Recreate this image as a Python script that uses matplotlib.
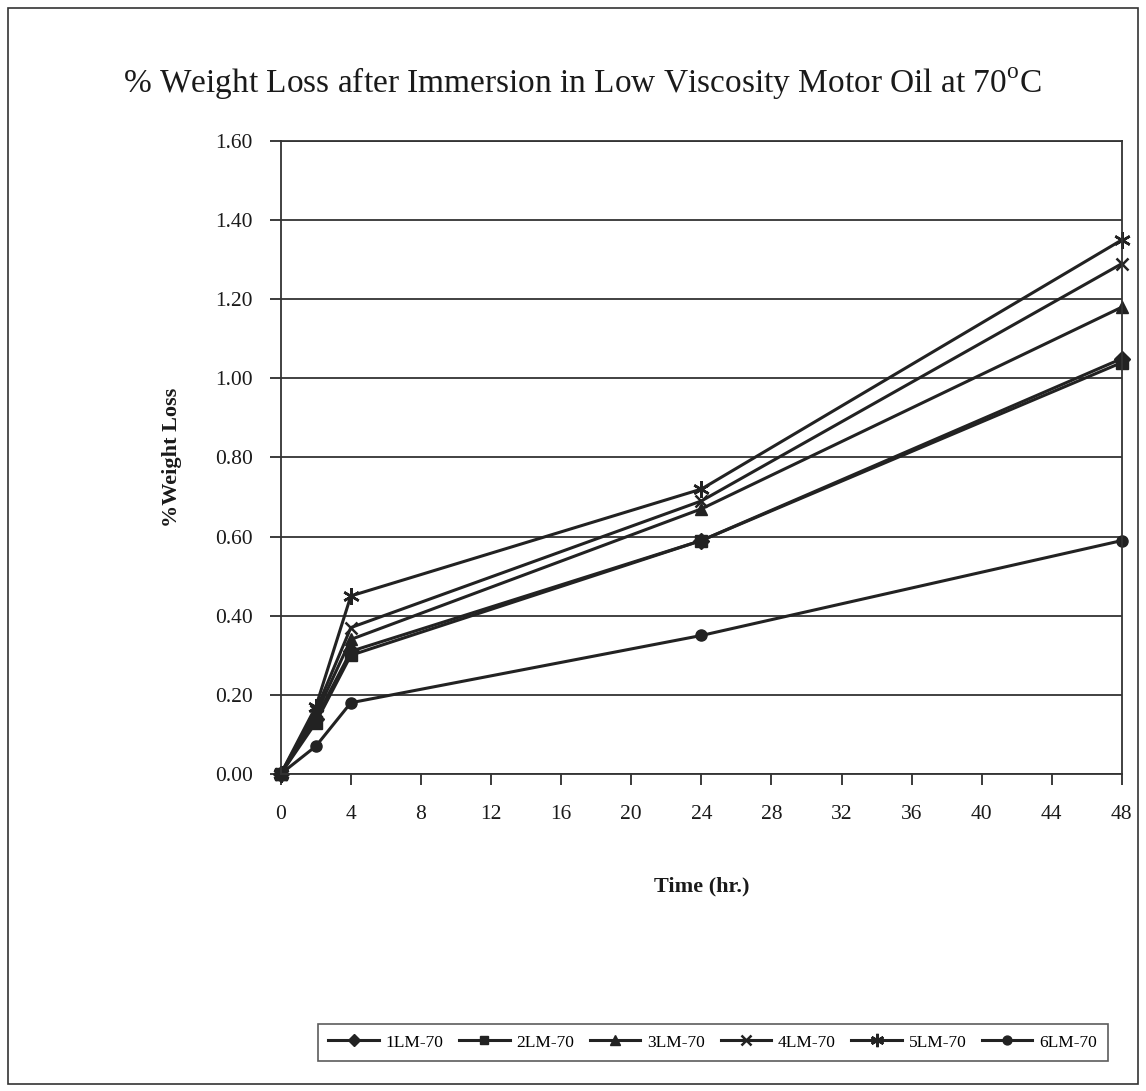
import matplotlib
matplotlib.use("Agg")
import matplotlib.pyplot as plt
from matplotlib.patches import Rectangle

time_hr = [0, 2, 4, 24, 48]
s1 = [0.00, 0.14, 0.31, 0.59, 1.05]
s2 = [0.00, 0.13, 0.30, 0.59, 1.04]
s3 = [0.00, 0.15, 0.34, 0.67, 1.18]
s4 = [0.00, 0.16, 0.37, 0.69, 1.29]
s5 = [0.00, 0.17, 0.45, 0.72, 1.35]
s6 = [0.00, 0.07, 0.18, 0.35, 0.59]
labels = ["1LM-70", "2LM-70", "3LM-70", "4LM-70", "5LM-70", "6LM-70"]
series = [s1, s2, s3, s4, s5, s6]
markers = ["D", "s", "^", "x", (6, 2, 0), "o"]
msizes = [8, 8, 9, 9, 12, 8]

xticks = list(range(0, 49, 4))
yticks = [0.0, 0.2, 0.4, 0.6, 0.8, 1.0, 1.2, 1.4, 1.6]

plt.rcParams['font.family'] = ['Liberation Serif', 'DejaVu Serif']

fig = plt.figure(figsize=(11.46, 10.91), dpi=100)
fig.patches.append(Rectangle((0.007, 0.006), 0.986, 0.987, transform=fig.transFigure,
                             fill=False, edgecolor='#333333', linewidth=1.2))

ax = fig.add_axes([0.245, 0.2906, 0.734, 0.5802])
for ys, lab, m, ms in zip(series, labels, markers, msizes):
    ax.plot(time_hr, ys, color='#222222', linewidth=2.2, marker=m, markersize=ms,
            markeredgewidth=1.8 if m in ('x', (6, 2, 0)) else 1.0, label=lab, clip_on=False)

ax.set_xlim(0, 48)
ax.set_ylim(0, 1.6)
ax.set_xticks(xticks)
ax.set_yticks(yticks)
ax.set_yticklabels([f"{v:.2f}" for v in yticks])
ax.yaxis.grid(True, color='#333333', linewidth=1.3)
ax.set_axisbelow(True)
for sp in ax.spines.values():
    sp.set_color('#333333')
    sp.set_linewidth(1.3)
ax.tick_params(axis='x', direction='out', length=8, width=1.2, pad=14, labelsize=15.5, colors='#1a1a1a')
ax.tick_params(axis='y', direction='out', length=8, width=1.2, pad=12, labelsize=15.5, colors='#1a1a1a')

ax.set_ylabel("%Weight Loss", fontsize=16, fontweight='bold', labelpad=24, color='#1a1a1a')
ax.set_xlabel("Time (hr.)", fontsize=16, fontweight='bold', labelpad=38, color='#1a1a1a')

fig.text(0.508, 0.924, r"% Weight Loss after Immersion in Low Viscosity Motor Oil at 70$^{\mathregular{o}}$C",
         ha='center', va='center', fontsize=24, color='#1a1a1a')

leg = fig.legend(loc='center', bbox_to_anchor=(0.622, 0.0445), ncol=6, fontsize=12.5,
                 frameon=True, fancybox=False, edgecolor='#333333', handlelength=2.9,
                 columnspacing=0.9, handletextpad=0.4, borderpad=0.6, markerscale=0.8)
leg.get_frame().set_linewidth(1.2)

fig.savefig("out.png", dpi=100)
